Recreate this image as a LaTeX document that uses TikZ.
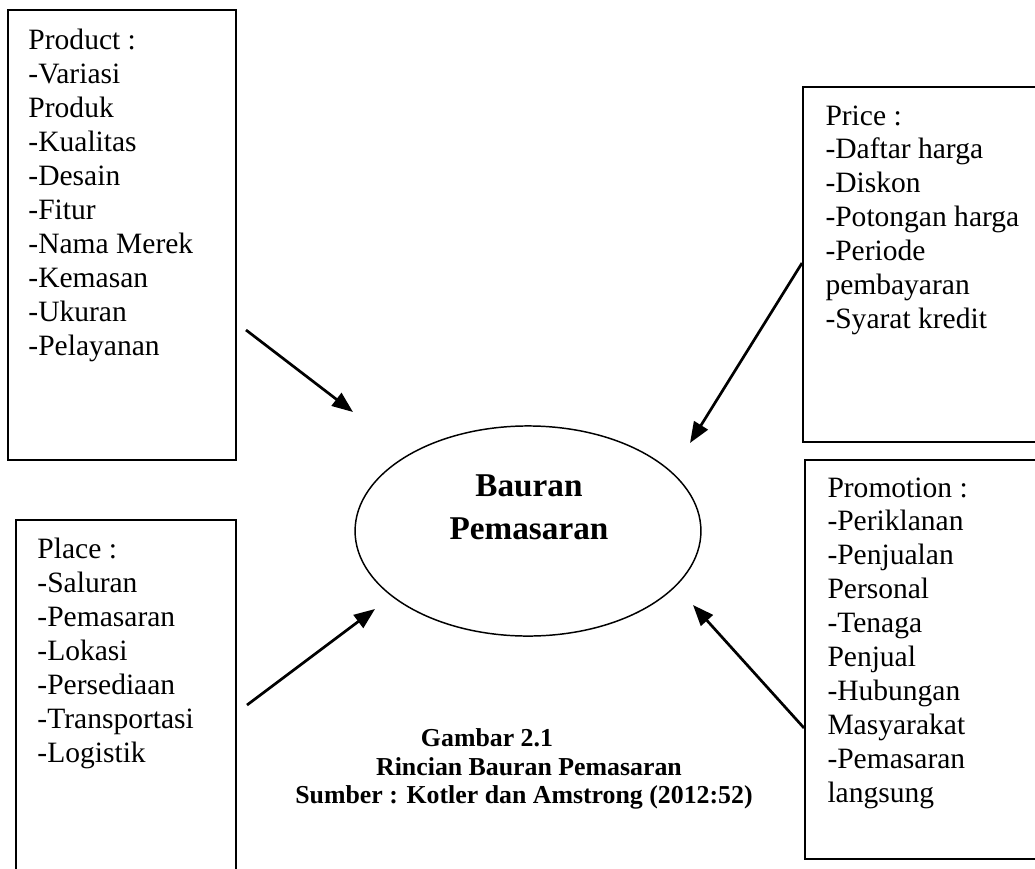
\documentclass[tikz,border=0pt]{standalone}
\usepackage{fontspec}
\setmainfont{Liberation Serif}
\usetikzlibrary{arrows.meta,fit,shapes.geometric}

\tikzset{
  box/.style={draw, line width=.8pt, inner sep=0pt},
  list/.style={draw=none, inner sep=0pt, align=left, anchor=north west,
    font=\fontsize{12}{13.8}\selectfont},
  captext/.style={draw=none, inner sep=0pt, anchor=base,
    font=\bfseries\fontsize{10.5}{12}\selectfont},
  arr/.style={line width=1.1pt, -{Triangle[length=8.5pt,width=6.5pt]}}
}

\begin{document}
\begin{tikzpicture}[x=.4065pt, y=-.4065pt]
             \useasboundingbox (0,0) rectangle (1035,868);
             \clip (0,0) rectangle (1035,868);

             \node[box, fit={(8,10) (236,460)}] (product) {};
             \node[box, fit={(803,87) (1060,442)}] (price) {};
             \node[box, fit={(16,520) (236,890)}] (place) {};
             \node[box, fit={(805,460) (1060,859)}] (promotion) {};

             \node[list] (producttext) at (28,29) {Product :\\-Variasi\\Produk\\-Kualitas\\-Desain\\-Fitur\\-Nama Merek\\-Kemasan\\-Ukuran\\-Pelayanan};
             \node[list] (pricetext) at (825,105) {Price :\\-Daftar harga\\-Diskon\\-Potongan harga\\-Periode\\pembayaran\\-Syarat kredit};
             \node[list] (placetext) at (37,538) {Place :\\-Saluran\\-Pemasaran\\-Lokasi\\-Persediaan\\-Transportasi\\-Logistik};
             \node[list] (promotext) at (827,477) {Promotion :\\-Periklanan\\-Penjualan\\Personal\\-Tenaga\\Penjual\\-Hubungan\\Masyarakat\\-Pemasaran\\langsung};

             \node[draw, ellipse, line width=.6pt, inner sep=0pt,
               minimum width=140.6pt, minimum height=85.4pt] (mix) at (528,531) {};
             \node[draw=none, inner sep=0pt, anchor=north, align=center,
               font=\bfseries\fontsize{13.5}{17.5}\selectfont] (mixtext) at (529,474) {Bauran\\Pemasaran};

             \coordinate (t1) at (246,330);
             \coordinate (h1) at (353,412);
             \coordinate (h2) at (690,443);
             \coordinate (t3) at (247,705);
             \coordinate (h3) at (375,609);
             \coordinate (h4) at (693,605);
             \draw[arr] (t1) -- (h1);
             \draw[arr] (price.west |- 0,263) -- (h2);
             \draw[arr] (t3) -- (h3);
             \draw[arr] (promotion.west |- 0,728) -- (h4);

             \node[captext] (figno) at (487,746) {Gambar 2.1};
             \node[captext] (figtitle) at (529,775) {Rincian Bauran Pemasaran};
             \node[captext] (figsource) at (524,803) {Sumber : Kotler dan Amstrong (2012:52)};
\end{tikzpicture}
\end{document}
